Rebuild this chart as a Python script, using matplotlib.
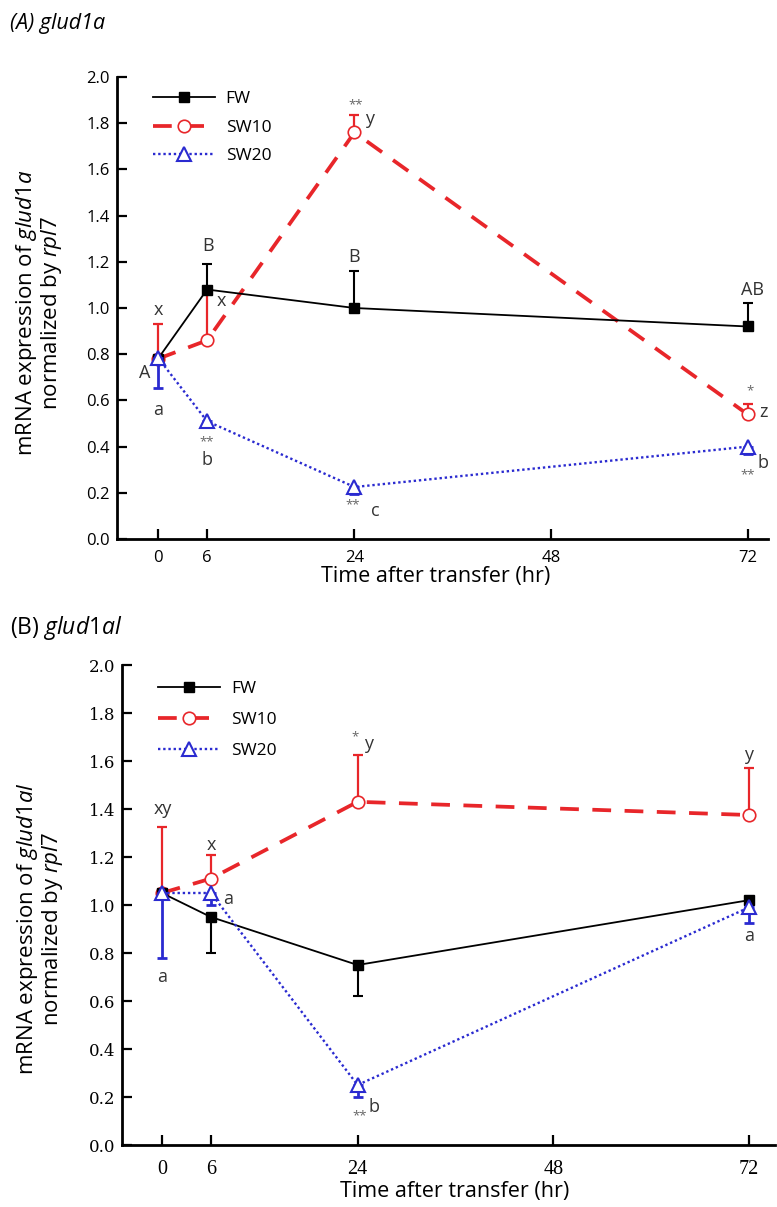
import matplotlib
matplotlib.use("Agg")
import matplotlib.pyplot as plt

plt.rcParams['font.family'] = ['Open Sans', 'DejaVu Sans']
plt.rcParams['mathtext.fontset'] = 'custom'
plt.rcParams['mathtext.rm'] = 'Open Sans'
plt.rcParams['mathtext.it'] = 'Open Sans:italic'

hours = [0, 6, 24, 72]
xticks = [0, 6, 24, 48, 72]
yticks = [0.0, 0.2, 0.4, 0.6, 0.8, 1.0, 1.2, 1.4, 1.6, 1.8, 2.0]
series_names = ["FW", "SW10", "SW20"]

# Panel A: glud1a
fw_a = [0.78, 1.08, 1.00, 0.92]
fw_a_err = [0.0, 0.11, 0.16, 0.10]
sw10_a = [0.78, 0.86, 1.76, 0.54]
sw10_a_err = [0.15, 0.20, 0.075, 0.045]
sw20_a = [0.785, 0.51, 0.225, 0.40]
sw20_a_err = [0.13, 0.02, 0.03, 0.03]

# Panel B: glud1al
fw_b = [1.05, 0.95, 0.75, 1.02]
fw_b_err = [0.0, 0.15, 0.13, 0.0]
sw10_b = [1.05, 1.11, 1.43, 1.375]
sw10_b_err = [0.275, 0.10, 0.195, 0.195]
sw20_b = [1.05, 1.05, 0.25, 0.99]
sw20_b_err = [0.27, 0.05, 0.05, 0.065]

# annotations: (text, x, y, is_star)
notes_a = [("A", -1.6, 0.72, False), ("x", 0, 0.99, False), ("a", 0, 0.56, False),
           ("B", 6.1, 1.27, False), ("x", 7.8, 1.03, False), ("**", 6, 0.42, True),
           ("b", 6, 0.34, False), ("B", 24, 1.22, False), ("**", 24.2, 1.88, True),
           ("y", 25.9, 1.82, False), ("**", 23.8, 0.15, True), ("c", 26.5, 0.12, False),
           ("AB", 72.6, 1.08, False), ("*", 72.3, 0.64, True), ("z", 74.0, 0.55, False),
           ("b", 73.9, 0.33, False), ("**", 72.0, 0.28, True)]
notes_b = [("xy", 0.1, 1.40, False), ("a", 0, 0.70, False), ("x", 6.1, 1.25, False),
           ("a", 8.1, 1.025, False), ("*", 23.7, 1.70, True), ("y", 25.3, 1.67, False),
           ("**", 24.2, 0.12, True), ("b", 26.0, 0.16, False), ("y", 72, 1.625, False),
           ("a", 72, 0.87, False)]

RED = '#e8262a'
BLUE = '#2a2ad0'

W, H = 777, 1207
fig = plt.figure(figsize=(W / 100, H / 100), dpi=100)


def panel(rect_px, xlim, fw, fwe, fw_dir, s10, s10e, s20, s20e, notes, gene, label_x, label_y,
          xlab_x, xlab_y, leg_y, leg_sp, tick_fonts, xtick_size, xpad):
    l, t, r, b = rect_px
    ax = fig.add_axes([l / W, 1 - b / H, (r - l) / W, (b - t) / H])
    # SW10
    ax.errorbar(hours, s10, yerr=[[0] * 4, s10e], fmt='none', ecolor=RED, elinewidth=1.6,
                capsize=3.6, capthick=1.6, zorder=2)
    ax.plot(hours, s10, color=RED, lw=2.7, linestyle=(0, (5, 3.6)), marker='o', ms=9,
            mfc='white', mec=RED, mew=1.2, zorder=2.5, label=series_names[1])
    # FW
    if fw_dir == 'up':
        fe = [[0] * 4, fwe]
    else:
        fe = [fwe, [0] * 4]
    ax.errorbar(hours, fw, yerr=fe, fmt='none', ecolor='black', elinewidth=1.5,
                capsize=3.6, capthick=1.5, zorder=3)
    ax.plot(hours, fw, color='black', lw=1.3, marker='s', ms=7.5, mfc='black', mec='black',
            zorder=3.5, label=series_names[0])
    # SW20
    ax.errorbar(hours, s20, yerr=[s20e, [0] * 4], fmt='none', ecolor=BLUE, elinewidth=2.0,
                capsize=3.6, capthick=2.0, zorder=4)
    ax.plot(hours, s20, color=BLUE, lw=1.7, linestyle=(0, (1, 1.2)), marker='^', ms=10,
            mfc='white', mec=BLUE, mew=1.5, zorder=4.5, label=series_names[2])

    for txt, x, y, star in notes:
        if star:
            ax.text(x, y, txt, ha='center', va='center', fontsize=9.5, color='#666666', zorder=6)
        else:
            ax.text(x, y, txt, ha='center', va='center', fontsize=13, color='#333333', zorder=6)

    ax.set_xlim(*xlim)
    ax.set_ylim(0, 2.0)
    ax.set_xticks(xticks)
    ax.set_yticks(yticks)
    ax.set_yticklabels([f"{v:.1f}" for v in yticks], family=tick_fonts[0])
    ax.set_xticklabels([str(v) for v in xticks], family=tick_fonts[1])
    ax.tick_params(axis='both', direction='in', length=7, width=1.6, labelsize=12, colors='black')
    ax.tick_params(axis='x', pad=xpad, labelsize=xtick_size)
    ax.tick_params(axis='y', pad=5)
    for s in ['top', 'right']:
        ax.spines[s].set_visible(False)
    for s in ['left', 'bottom']:
        ax.spines[s].set_linewidth(2.0)

    ax.set_xlabel("Time after transfer (hr)", fontsize=15.5)
    ax.xaxis.set_label_coords(xlab_x, xlab_y)
    ax.set_ylabel("mRNA expression of $glud1" + gene + "$\nnormalized by $rpl7$", fontsize=16,
                  multialignment='center', linespacing=1.0)
    ax.yaxis.set_label_coords(label_x, label_y)

    handles, labels = ax.get_legend_handles_labels()
    order = [1, 0, 2]
    ax.legend([handles[i] for i in order], [labels[i] for i in order], loc='upper left',
              bbox_to_anchor=(0.055, leg_y), frameon=False, fontsize=12.5,
              handlelength=3.6, handletextpad=0.6, labelspacing=leg_sp, borderpad=0,
              borderaxespad=0)
    return ax


panel((117, 77, 768, 539), (-5.0, 74.5), fw_a, fw_a_err, 'up', sw10_a, sw10_a_err, sw20_a, sw20_a_err,
      notes_a, "a", -0.082, 0.49, 0.49, -0.058, 0.97, 0.72, ('Open Sans', 'Open Sans'), 12, 8)
panel((122, 665, 775, 1145), (-4.9, 75.2), fw_b, fw_b_err, 'down', sw10_b, sw10_b_err, sw20_b, sw20_b_err,
      notes_b, "al", -0.088, 0.45, 0.51, -0.075, 0.966, 0.85, ('DejaVu Serif', 'Liberation Serif'),
      14.5, 11)

fig.text(10 / W, 1 - 24 / H, "(A) glud1a", fontsize=15.5, style='italic', ha='left', va='center')
fig.text(10 / W, 1 - 628 / H, "(B) $glud1al$", fontsize=16.5, ha='left', va='center')

fig.savefig("out.png", dpi=100)
